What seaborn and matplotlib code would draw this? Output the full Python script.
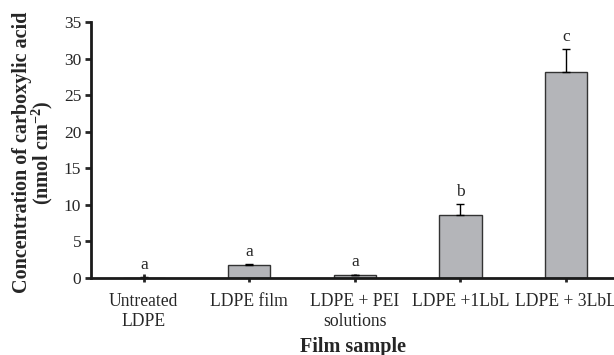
import numpy as np
import matplotlib.pyplot as plt
import pandas as pd
import seaborn as sns

samples = ["Untreated\nLDPE", "LDPE film", "LDPE + PEI\nsolutions", "LDPE +1LbL", "LDPE + 3LbL"]
conc = [0.0, 1.7, 0.33, 8.6, 28.1]
err = [0.1, 0.15, 0.1, 1.45, 3.2]
letters = ["a", "a", "a", "b", "c"]

df = pd.DataFrame({"sample": samples, "conc": conc})

sns.set_style("ticks")
plt.rcParams['font.family'] = ['Liberation Serif', 'DejaVu Serif']
plt.rcParams['mathtext.fontset'] = 'custom'
plt.rcParams['mathtext.rm'] = 'Liberation Serif'
plt.rcParams['mathtext.bf'] = 'Liberation Serif:bold'

fig = plt.figure(figsize=(6.14, 3.55), dpi=100)
ax = fig.add_axes([91 / 614, 0.2177, 1 - 91 / 614, 0.938 - 0.2177])

sns.barplot(data=df, x="sample", y="conc", color="#b4b5b9", saturation=1,
            width=0.4, edgecolor="#333333", linewidth=1.0, errorbar=None, ax=ax)

x = np.arange(len(samples))
ax.errorbar(x, conc, yerr=[np.zeros(len(err)), err], fmt="none",
            ecolor="black", elinewidth=1.0, capsize=3, capthick=1.0)

for xi, v, e, t in zip(x, conc, err, letters):
    ax.annotate(t, (xi, v + e), xytext=(0, 3), textcoords="offset points",
                ha="center", va="bottom", fontsize=12.5)

ax.set_ylim(0, 35)
ax.set_yticks(range(0, 36, 5))
ax.set_xlim(-0.5, 4.455)

for s in ["top", "right"]:
    ax.spines[s].set_visible(False)
for s in ["left", "bottom"]:
    ax.spines[s].set_linewidth(2)
    ax.spines[s].set_color("#1a1a1a")

ax.tick_params(axis="y", direction="out", length=4, width=2, labelsize=12.5, pad=3)
ax.tick_params(axis="x", direction="inout", length=6, width=2, labelsize=12.7, pad=8)

ax.set_xlabel("Film sample", fontsize=14.5, fontweight="bold", labelpad=5)
ax.set_ylabel("Concentration of carboxylic acid\n(nmol cm$^{\\mathbf{-2}}$)",
              fontsize=14.5, fontweight="bold", linespacing=0.85)
ax.yaxis.set_label_coords(-0.068, 0.49)

fig.savefig("out.png", dpi=100)
